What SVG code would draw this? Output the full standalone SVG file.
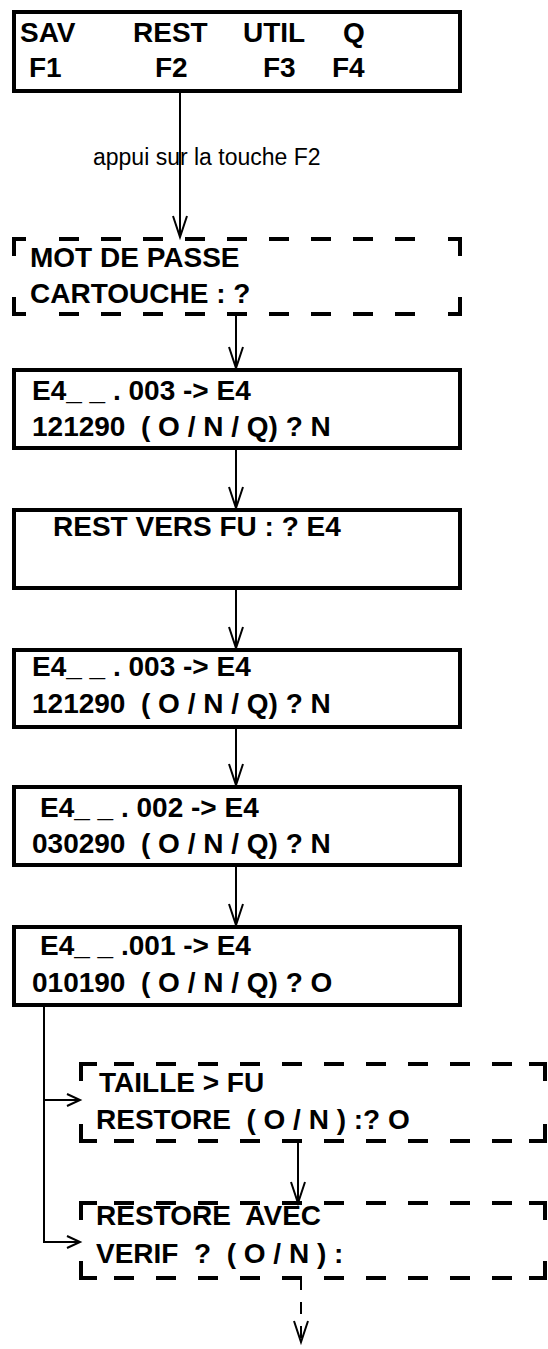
<svg xmlns="http://www.w3.org/2000/svg" width="548" height="1349" viewBox="0 0 548 1349">
  <defs>
    <style>
      .box { fill: #fff; stroke: #000; stroke-width: 4; }
      .dbox polyline, .dbox line { fill: none; stroke: #000; stroke-width: 4; }
      .dbox line { stroke-dasharray: 20 22; }
      .t { font-family: "Liberation Sans", Arial, sans-serif; font-weight: bold; font-size: 28px; fill: #000; white-space: pre; }
      .lbl { font-family: "Liberation Sans", Arial, sans-serif; font-size: 23px; fill: #000; }
      .c { fill: none; stroke: #000; stroke-width: 2; }
      .cd { stroke-dasharray: 12 12; }
    </style>
    <marker id="v" markerUnits="userSpaceOnUse" orient="auto" overflow="visible" markerWidth="1" markerHeight="1">
      <path d="M-21,-7 L0,0 L-21,7" fill="none" stroke="#000" stroke-width="2" stroke-dasharray="none"/>
    </marker>
    <marker id="h" markerUnits="userSpaceOnUse" orient="auto" overflow="visible" markerWidth="1" markerHeight="1">
      <path d="M-13,-6 L0,0 L-13,6" fill="none" stroke="#000" stroke-width="2"/>
    </marker>
  </defs>
  <rect width="548" height="1349" fill="#fff"/>

  <!-- connectors -->
  <g id="connectors">
    <line class="c" x1="180" y1="93" x2="180" y2="237" marker-end="url(#v)"/>
    <line class="c" x1="236" y1="316" x2="236" y2="368" marker-end="url(#v)"/>
    <line class="c" x1="236" y1="450" x2="236" y2="508" marker-end="url(#v)"/>
    <line class="c" x1="236" y1="590" x2="236" y2="648" marker-end="url(#v)"/>
    <line class="c" x1="236" y1="729" x2="236" y2="785" marker-end="url(#v)"/>
    <line class="c" x1="236" y1="867" x2="236" y2="925" marker-end="url(#v)"/>
    <path class="c" d="M44,1007 V1242 H80" marker-end="url(#h)"/>
    <line class="c" x1="44" y1="1100" x2="80" y2="1100" marker-end="url(#h)"/>
    <line class="c" x1="298" y1="1141" x2="298" y2="1203" marker-end="url(#v)"/>
    <line class="c cd" x1="301" y1="1278" x2="301" y2="1342" marker-end="url(#v)"/>
    <text class="lbl" x="93" y="165">appui sur la touche F2</text>
  </g>

  <!-- function key menu -->
  <g id="menu">
    <rect class="box" x="14" y="12" width="446" height="79"/>
    <text class="t" y="42"><tspan x="20">SAV</tspan><tspan x="133">REST</tspan><tspan x="243">UTIL</tspan><tspan x="343">Q</tspan></text>
    <text class="t" y="77"><tspan x="29">F1</tspan><tspan x="155">F2</tspan><tspan x="263">F3</tspan><tspan x="332">F4</tspan></text>
  </g>

  <!-- password prompt -->
  <g id="password" class="dbox">
    <polyline points="26,239 14,239 14,256"/>
    <polyline points="448,239 460,239 460,256"/>
    <polyline points="14,297 14,314 26,314"/>
    <polyline points="460,297 460,314 448,314"/>
    <line x1="59" y1="239" x2="415" y2="239"/>
    <line x1="59" y1="314" x2="415" y2="314"/>
    <text class="t" x="30" y="267">MOT DE PASSE</text>
    <text class="t" x="30" y="303">CARTOUCHE : ?</text>
  </g>

  <g id="file003a">
    <rect class="box" x="14" y="370" width="446" height="78"/>
    <text class="t" x="32" y="400">E4_ _ . 003 -&gt; E4</text>
    <text class="t" x="32" y="436">121290  ( O / N / Q) ? N</text>
  </g>

  <g id="restvers">
    <rect class="box" x="14" y="510" width="446" height="78"/>
    <text class="t" x="53" y="536">REST VERS FU : ? E4</text>
  </g>

  <g id="file003b">
    <rect class="box" x="14" y="650" width="446" height="77"/>
    <text class="t" x="32" y="676">E4_ _ . 003 -&gt; E4</text>
    <text class="t" x="32" y="713">121290  ( O / N / Q) ? N</text>
  </g>

  <g id="file002">
    <rect class="box" x="14" y="787" width="446" height="78"/>
    <text class="t" x="40" y="817">E4_ _ . 002 -&gt; E4</text>
    <text class="t" x="32" y="853">030290  ( O / N / Q) ? N</text>
  </g>

  <g id="file001">
    <rect class="box" x="14" y="927" width="446" height="78"/>
    <text class="t" x="40" y="955">E4_ _ .001 -&gt; E4</text>
    <text class="t" x="32" y="992">010190  ( O / N / Q) ? O</text>
  </g>

  <g id="taille" class="dbox">
    <polyline points="97,1064 81,1064 81,1081"/>
    <polyline points="529,1064 545,1064 545,1081"/>
    <polyline points="81,1124 81,1141 97,1141"/>
    <polyline points="545,1124 545,1141 529,1141"/>
    <line x1="114" y1="1064" x2="512" y2="1064"/>
    <line x1="114" y1="1141" x2="512" y2="1141"/>
    <text class="t" x="99" y="1092">TAILLE &gt; FU</text>
    <text class="t" x="96" y="1129">RESTORE  ( O / N ) :? O</text>
  </g>

  <g id="verif" class="dbox">
    <polyline points="97,1203 81,1203 81,1220"/>
    <polyline points="529,1203 545,1203 545,1220"/>
    <polyline points="81,1261 81,1278 97,1278"/>
    <polyline points="545,1261 545,1278 529,1278"/>
    <line x1="114" y1="1203" x2="512" y2="1203"/>
    <line x1="114" y1="1278" x2="512" y2="1278"/>
    <text class="t" x="96" y="1225">RESTORE  AVEC</text>
    <text class="t" x="96" y="1263">VERIF  ?  ( O / N ) :</text>
  </g>
</svg>
